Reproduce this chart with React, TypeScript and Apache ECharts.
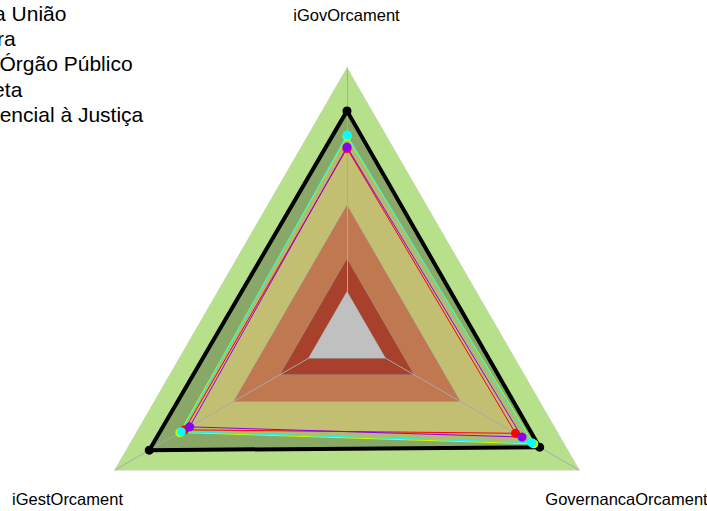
import React, { useEffect, useRef } from 'react';
import * as echarts from 'echarts';

// Indicators (ECharts places them counter-clockwise from the top)
const indicators = ['iGovOrcament', 'iGestOrcament', 'GovernancaOrcament'];

// Legend / series names (only the tail of each is visible in the reference)
const seriesNames = [
  'Ministério Público da União',
  'Agência Reguladora',
  'Autarquia/Órgão Público',
  'Administração Direta',
  'Função Essencial à Justiça',
];

// Values per series, in indicator order [iGovOrcament, iGestOrcament, GovernancaOrcament]
const blackValues = [0.84, 0.852, 0.83];
const redValues = [0.7, 0.7, 0.726];
const purpleValues = [0.705, 0.678, 0.754];
const limeValues = [0.745, 0.72, 0.805];
const cyanValues = [0.75, 0.714, 0.796];

const seriesValues = [blackValues, redValues, purpleValues, limeValues, cyanValues];
const seriesColors = ['#000000', '#ff0000', '#8a00f0', '#c8ff00', '#00ffff'];

// Background bands (outer level of each band)
const bandLevels = [1.0, 0.487, 0.288, 0.165];
const bandColors = ['#b7e08b', '#c07850', '#a8412c', '#c0c0c0'];

// Visible legend layout helpers: start x of each (clipped) legend text, row centers
const legendStartX = [-188, -174.7, -96.2, -172.6, -111.2];

const FONT = '"Liberation Sans", Arial, Helvetica, sans-serif';

export default function App() {
  const ref = useRef<HTMLDivElement>(null);

  useEffect(() => {
    if (!ref.current) return;
    const chart = echarts.init(ref.current, undefined, { renderer: 'svg' });

    const lvl = (v: number) => indicators.map(() => v);

    const series: any[] = [];
    // outer green band
    series.push({
      type: 'radar', silent: true, z: 1, symbol: 'none',
      lineStyle: { color: '#c9d3c0', width: 1 },
      areaStyle: { color: bandColors[0], opacity: 1 },
      data: [{ value: lvl(bandLevels[0]), name: 'band0' }],
    });
    // translucent fills of data series
    seriesValues.forEach((vals, i) => {
      series.push({
        type: 'radar', silent: true, z: 1, symbol: 'none',
        lineStyle: { width: 0, opacity: 0 },
        areaStyle: i === 0
          ? { color: '#000000', opacity: 0.25 }
          : { color: '#cbc275', opacity: 0.4 },
        data: [{ value: vals, name: seriesNames[i] + ' ' }],
      });
    });
    // inner bands (orange, dark red)
    [1, 2].forEach((b) => {
      series.push({
        type: 'radar', silent: true, z: 1, symbol: 'none',
        lineStyle: { color: '#9c9c9c', width: 1 },
        areaStyle: { color: bandColors[b], opacity: 1 },
        data: [{ value: lvl(bandLevels[b]), name: 'band' + b }],
      });
    });
    // grey centre above spokes
    series.push({
      type: 'radar', silent: true, z: 3, symbol: 'none',
      lineStyle: { color: '#9c9c9c', width: 1 },
      areaStyle: { color: bandColors[3], opacity: 1 },
      data: [{ value: lvl(bandLevels[3]), name: 'band3' }],
    });
    // lines + points
    seriesValues.forEach((vals, i) => {
      series.push({
        type: 'radar', name: seriesNames[i], silent: true, z: 4,
        symbol: 'circle', symbolSize: 9,
        lineStyle: { color: seriesColors[i], width: i === 0 ? 4 : 1 },
        itemStyle: { color: seriesColors[i] },
        data: [{ value: vals, name: seriesNames[i] }],
      });
    });

    const graphic: any[] = [];
    seriesNames.forEach((n, i) => {
      graphic.push({
        type: 'text', x: legendStartX[i], y: 13.5 + 25.2 * i, silent: true,
        style: { text: n, fontSize: 21, fontFamily: FONT, fill: '#000', align: 'left', verticalAlign: 'middle' },
      });
    });
    const labelPos = [[346.5, 14.5], [67.5, 499], [626.5, 499]];
    indicators.forEach((n, i) => {
      graphic.push({
        type: 'text', x: labelPos[i][0], y: labelPos[i][1], silent: true,
        style: { text: n, fontSize: 16.5, fontFamily: FONT, fill: '#000', align: 'center', verticalAlign: 'middle' },
      });
    });

    chart.setOption({
      animation: false,
      backgroundColor: '#ffffff',
      radar: {
        center: [347, 336],
        radius: 268,
        startAngle: 90,
        shape: 'polygon',
        splitNumber: 1,
        z: 2,
        silent: true,
        indicator: indicators.map((n) => ({ name: n, min: 0, max: 1 })),
        axisName: { show: false },
        axisLine: { lineStyle: { color: '#a9a9a9', width: 1 } },
        axisTick: { show: false },
        axisLabel: { show: false },
        splitLine: { show: false },
        splitArea: { show: false },
      },
      series,
      graphic,
    });

    return () => chart.dispose();
  }, []);

  return (
    <div
      ref={ref}
      style={{ position: 'absolute', left: 0, top: 0, width: 707, height: 511 }}
    />
  );
}
